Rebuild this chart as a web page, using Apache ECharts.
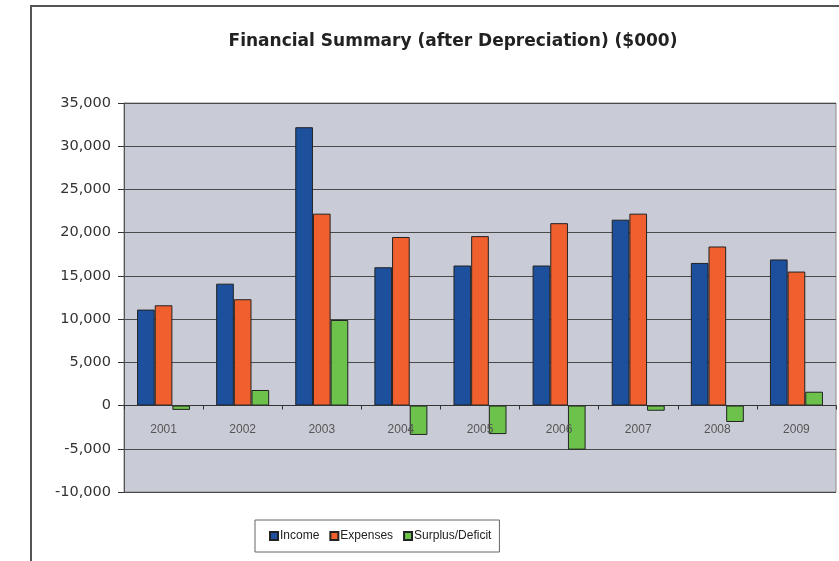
<!DOCTYPE html>
<html>
<head>
<meta charset="utf-8">
<script src="https://cdn.jsdelivr.net/npm/echarts@6/dist/echarts.min.js"></script>
<style>
  html, body { margin: 0; padding: 0; background: #fff; }
  #chart { width: 839px; height: 561px; }
</style>
</head>
<body>
<div id="chart"></div>
<script>
  // values in $000
  var years = ['2001', '2002', '2003', '2004', '2005', '2006', '2007', '2008', '2009']
  var income = [11100, 14100, 32200, 16000, 16200, 16200, 21500, 16500, 16900]
  var expenses = [11600, 12300, 22200, 19500, 19600, 21100, 22200, 18400, 15500]
  var surplus = [-500, 1800, 9900, -3400, -3300, -5100, -600, -1900, 1600]

  var yMin = -10000
  var yMax = 35000

  var chart = echarts.init(document.getElementById('chart'))

  var gridTop = 103
  var gridBottom = 69
  var plotH = 561 - gridTop - gridBottom
  // move the category axis up to the zero line (labels sit just under it)
  var zeroOffset = -plotH * (0 - yMin) / (yMax - yMin)

  var barBorder = { borderColor: '#222', borderWidth: 1 }

  chart.setOption({
    animation: false,
    backgroundColor: '#fff',
    textStyle: { fontFamily: 'Liberation Sans, Arial, sans-serif' },
    title: {
      text: 'Financial Summary (after Depreciation) ($000)',
      left: 448,
      top: 28,
      textAlign: 'center',
      textStyle: { fontSize: 17, fontWeight: 'bold', color: '#222', fontFamily: 'DejaVu Sans' }
    },
    graphic: [
      // outer chart frame (photo is cropped on right and bottom)
      { type: 'polyline', shape: { points: [[31, 561], [31, 6], [839, 6]] },
        style: { stroke: '#555', lineWidth: 2, fill: null } },
      // plot area background
      { type: 'rect', z: -1, shape: { x: 124, y: gridTop, width: 712, height: plotH },
        style: { fill: '#c9ccd6', stroke: '#8a8a8a', lineWidth: 1 } }
    ],
    legend: {
      top: 520,
      left: 255,
      data: ['Income', 'Expenses', 'Surplus/Deficit'],
      itemWidth: 8,
      itemHeight: 8,
      itemGap: 10,
      borderColor: '#666',
      borderWidth: 1,
      padding: [10, 8, 10, 14],
      textStyle: { fontSize: 12, color: '#222', padding: [0, 0, 0, -3] },
      icon: 'rect'
    },
    grid: { left: 124, right: 3, top: gridTop, bottom: gridBottom },
    xAxis: {
      type: 'category',
      data: years,
      offset: zeroOffset,
      axisLine: { onZero: false, lineStyle: { color: '#333', width: 1 } },
      axisTick: { show: true, length: 4, lineStyle: { color: '#333' } },
      axisLabel: { fontSize: 12, color: '#555', margin: 18 },
      z: 10
    },
    yAxis: {
      type: 'value',
      min: yMin,
      max: yMax,
      interval: 5000,
      axisLine: { show: true, lineStyle: { color: '#555' } },
      axisTick: { show: true, length: 6, lineStyle: { color: '#333' } },
      axisLabel: {
        fontSize: 14.5,
        color: '#333',
        margin: 13,
        fontFamily: 'DejaVu Sans',
        formatter: function (v) { return echarts.format.addCommas(v) }
      },
      splitLine: { lineStyle: { color: '#4a4a4a', width: 1 } }
    },
    series: [
      {
        name: 'Income', type: 'bar', data: income,
        barGap: '0%', barCategoryGap: '33%',
        itemStyle: Object.assign({ color: '#1c4f9c' }, barBorder)
      },
      {
        name: 'Expenses', type: 'bar', data: expenses,
        itemStyle: Object.assign({ color: '#f0602e' }, barBorder)
      },
      {
        name: 'Surplus/Deficit', type: 'bar', data: surplus,
        itemStyle: Object.assign({ color: '#6cc24a' }, barBorder)
      }
    ]
  })
</script>
</body>
</html>
